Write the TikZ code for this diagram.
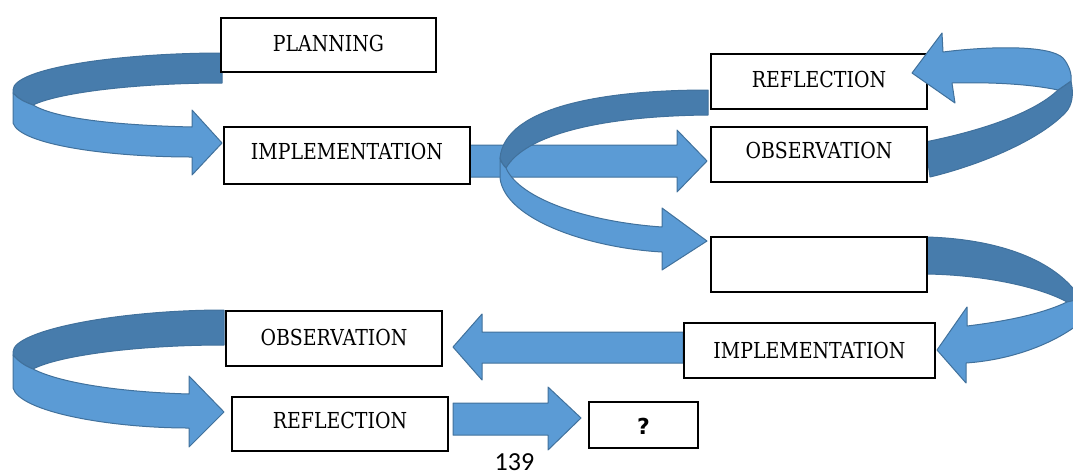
\documentclass[tikz,border=0pt]{standalone}
\usepackage{fontspec}
\newfontfamily\pagefont{Carlito}
\newfontfamily\qfont{DejaVu Sans}
\newfontfamily\boxfont[FakeStretch=0.86]{DejaVu Serif}
\definecolor{rlight}{RGB}{91,155,213}
\definecolor{rdark}{RGB}{71,124,172}
\definecolor{redge}{RGB}{65,113,156}
\begin{document}
\begin{tikzpicture}[x=1pt,y=-1pt,
  box/.style={draw=black, line width=2.5pt, fill=white, inner sep=0pt,
    text height=16pt, text depth=4pt, font=\boxfont\fontsize{22}{26}\selectfont},
  front/.style={fill=rlight, draw=redge, line width=1pt, line join=round},
  back/.style={fill=rdark, draw=redge, line width=1pt, line join=round}]
\clip (0,0) rectangle (1073,475);
% top-left ribbon
\path[back] (222,53) .. controls (120,53) and (13,68) .. (13,90) -- (13,93)
  .. controls (18,99) and (25,102) .. (33,105)
  .. controls (60,92) and (140,83) .. (222,83) -- cycle;
\path[front] (13,93) -- (13,123) .. controls (20,145) and (110,157) .. (192,157)
  -- (192,175) -- (222,143) -- (192,110) -- (192,127)
  .. controls (110,125) and (55,118) .. (33,105)
  .. controls (25,102) and (18,99) .. (13,93) -- cycle;
% middle straight arrow
\path[front] (470,145) -- (677,145) -- (677,130) -- (707,161) -- (677,192) -- (677,177) -- (470,177) -- cycle;
% middle ribbon
\path[back] (708,90) .. controls (610,90) and (505,105) .. (500,158)
  .. controls (501,162) and (503,165) .. (506,168)
  .. controls (525,135) and (600,116) .. (708,115) -- cycle;
\path[front] (500,158) -- (500,178) .. controls (505,220) and (590,248) .. (662,252)
  -- (662,270) -- (707,241) -- (662,208) -- (662,227)
  .. controls (590,222) and (520,200) .. (506,168)
  .. controls (503,165) and (501,162) .. (500,158) -- cycle;
% bottom straight arrows
\path[front] (683,332) -- (482,332) -- (482,314) -- (453,347) -- (482,380) -- (482,363) -- (683,363) -- cycle;
\path[front] (453,403) -- (548,403) -- (548,387) -- (581,418) -- (548,450) -- (548,435) -- (453,435) -- cycle;
% bottom-left ribbon
\path[back] (224,310) .. controls (120,310) and (13,330) .. (13,352) -- (13,355)
  .. controls (18,361) and (25,366) .. (33,369)
  .. controls (60,355) and (140,345) .. (224,345) -- cycle;
\path[front] (13,355) -- (13,388) .. controls (20,412) and (110,428) .. (189,428)
  -- (189,447) -- (224,412) -- (189,376) -- (189,394)
  .. controls (120,392) and (60,383) .. (33,369)
  .. controls (25,366) and (18,361) .. (13,355) -- cycle;
% right ribbons, back parts
\path[back] (925,142) .. controls (985,130) and (1035,112) .. (1058,90) -- (1071,81)
  .. controls (1074,95) and (1072,105) .. (1066,112)
  .. controls (1040,140) and (980,165) .. (930,177) -- cycle;
\path[back] (927,237) .. controls (995,239) and (1050,258) .. (1076,292) -- (1076,301) -- (1067,302)
  .. controls (1040,287) and (985,275) .. (927,274) -- cycle;
% boxes
\node[box, minimum width=215pt, minimum height=54pt] (plan) at (328.5,45) {PLANNING};
\node[box, minimum width=246pt, minimum height=57pt, text depth=9pt] (impA) at (347,155.5) {IMPLEMENTATION};
\node[box, minimum width=216pt, minimum height=55pt] (refA) at (819,81.5) {REFLECTION};
\node[box, minimum width=216pt, minimum height=55pt, text depth=8pt] (obsA) at (819,154.5) {OBSERVATION};
\node[box, minimum width=216pt, minimum height=55pt] (blank) at (819,264.5) {};
\node[box, minimum width=251pt, minimum height=55pt, text depth=0pt] (impB) at (809.5,350.5) {IMPLEMENTATION};
\node[box, minimum width=216pt, minimum height=55pt, text depth=2pt] (obsB) at (334,338.5) {OBSERVATION};
\node[box, minimum width=216pt, minimum height=54pt, text depth=7pt] (refB) at (340,424) {REFLECTION};
\node[box, minimum width=109pt, minimum height=46pt, text height=19.4pt, text depth=0pt,
  font=\qfont\bfseries\fontsize{22}{26}\selectfont] (q) at (643.5,425) {?};
% right ribbons, front parts
\path[front] (1058,90) .. controls (1030,84) and (990,82) .. (952,83) -- (955,103) -- (912,73)
  -- (942,33) -- (943,52) .. controls (990,46) and (1050,45) .. (1063,58)
  .. controls (1069,65) and (1072,74) .. (1071,81) -- cycle;
\path[front] (1067,302) -- (1076,300) -- (1076,326) .. controls (1050,345) and (1010,360) .. (966,363)
  -- (966,383) -- (937,350) -- (967,307) -- (967,326)
  .. controls (1000,322) and (1040,315) .. (1067,302) -- cycle;
% page number
\node[anchor=base, inner sep=0pt, font=\pagefont\fontsize{26}{30}\selectfont] (pg) at (514.5,470) {139};
\end{tikzpicture}
\end{document}
